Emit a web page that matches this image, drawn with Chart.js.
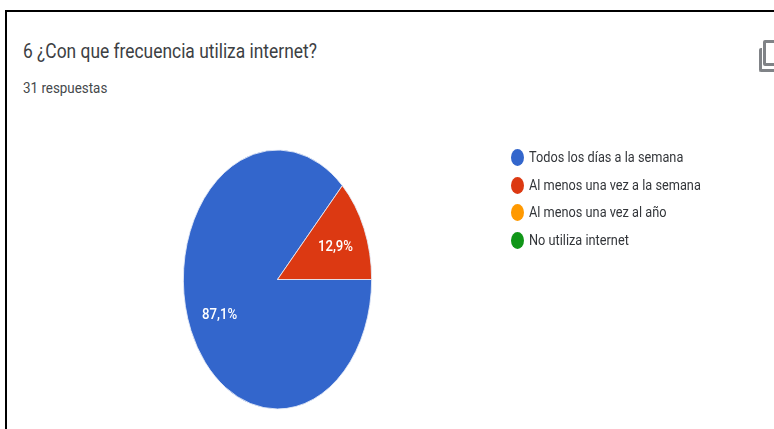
<!DOCTYPE html>
<html lang="es">
<head>
<meta charset="utf-8">
<title>Frecuencia de uso de internet</title>
<script src="https://cdn.jsdelivr.net/npm/chart.js@4"></script>
<style>
html,body{margin:0;padding:0;background:#fff;overflow:hidden}
#stage{position:relative;width:774px;height:429px;overflow:hidden;font-family:Roboto,sans-serif;background:#fff;filter:blur(.35px)}
#frame{position:absolute;left:5px;top:10px;width:800px;height:500px;border:2px solid #000;box-sizing:border-box}
canvas{position:absolute;left:0;top:0}
.t{position:absolute;white-space:nowrap;transform-origin:0 0;color:#3c4043}
#title{left:23px;top:40px;font-size:19.5px;line-height:23px;transform:scaleX(.892)}
#sub{left:23px;top:80px;font-size:15px;line-height:17px;transform:scaleX(.893);color:#45484b}
#legend{position:absolute;left:510px;top:143px;margin:0;padding:0;list-style:none}
#legend li{position:relative;height:27.5px;width:260px}
#legend i{position:absolute;left:1px;top:6px;width:13px;height:17px;border-radius:50%}
#legend span{position:absolute;left:19px;top:5px;font-size:15px;line-height:18px;white-space:nowrap;color:#33363a;transform-origin:0 0;transform:scaleX(.85)}
#icon{position:absolute;left:759px;top:41px;width:30px;height:30px}
#icon b{position:absolute;box-sizing:border-box;border:3px solid #808387;border-radius:2px}
</style>
</head>
<body>
<div id="stage">
  <div id="frame"></div>
  <div id="title" class="t">6 ¿Con que frecuencia utiliza internet?</div>
  <div id="sub" class="t">31 respuestas</div>
  <canvas id="c" width="774" height="429"></canvas>
  <ul id="legend"></ul>
  <div id="icon">
    <b style="left:0;top:7px;width:24px;height:24px;border-right:0;border-top:0"></b>
    <b style="left:4px;top:-1px;width:24px;height:26px"></b>
  </div>
</div>
<script>
const categories = ["Todos los días a la semana","Al menos una vez a la semana","Al menos una vez al año","No utiliza internet"];
const responses = [27, 4, 0, 0];
const colors = ["#3366cc","#dc3912","#ff9900","#109618"];

const squeeze = 0.727;

const ellipse = {
  id: "ellipse",
  beforeDatasetsDraw(chart) {
    const a = chart.getDatasetMeta(0).data[0];
    const ctx = chart.ctx;
    ctx.save();
    ctx.translate(a.x, a.y);
    ctx.scale(squeeze, 1);
    ctx.translate(-a.x, -a.y);
  },
  afterDatasetsDraw(chart) {
    const ctx = chart.ctx;
    ctx.restore();
    const total = responses.reduce((s, v) => s + v, 0);
    ctx.fillStyle = "#ffffff";
    ctx.font = "500 15px Roboto, sans-serif";
    ctx.textAlign = "center";
    ctx.textBaseline = "middle";
    chart.getDatasetMeta(0).data.forEach((arc, i) => {
      if (!responses[i]) return;
      const mid = (arc.startAngle + arc.endAngle) / 2;
      const r = arc.outerRadius * 0.67;
      const x = arc.x + squeeze * r * Math.cos(mid);
      const y = arc.y + r * Math.sin(mid);
      const pct = (responses[i] / total * 100).toFixed(1).replace(".", ",") + "%";
      ctx.save();
      ctx.translate(x, y + 1.5);
      ctx.scale(0.88, 1);
      ctx.fillText(pct, 0, 0);
      ctx.restore();
    });
  }
};

new Chart(document.getElementById("c"), {
  type: "pie",
  data: {
    labels: categories,
    datasets: [{
      data: responses,
      backgroundColor: colors,
      borderColor: "#e6ebf7",
      borderWidth: 1
    }]
  },
  options: {
    responsive: false,
    animation: false,
    rotation: 90,
    layout: { padding: { left: 147.5, right: 366.5, top: 149.5, bottom: 19.5 } },
    plugins: { legend: { display: false }, tooltip: { enabled: false } }
  },
  plugins: [ellipse]
});

const legend = document.getElementById("legend");
categories.forEach((name, i) => {
  const li = document.createElement("li");
  const dot = document.createElement("i");
  dot.style.background = colors[i];
  const txt = document.createElement("span");
  txt.textContent = name;
  li.append(dot, txt);
  legend.append(li);
});
</script>
</body>
</html>
